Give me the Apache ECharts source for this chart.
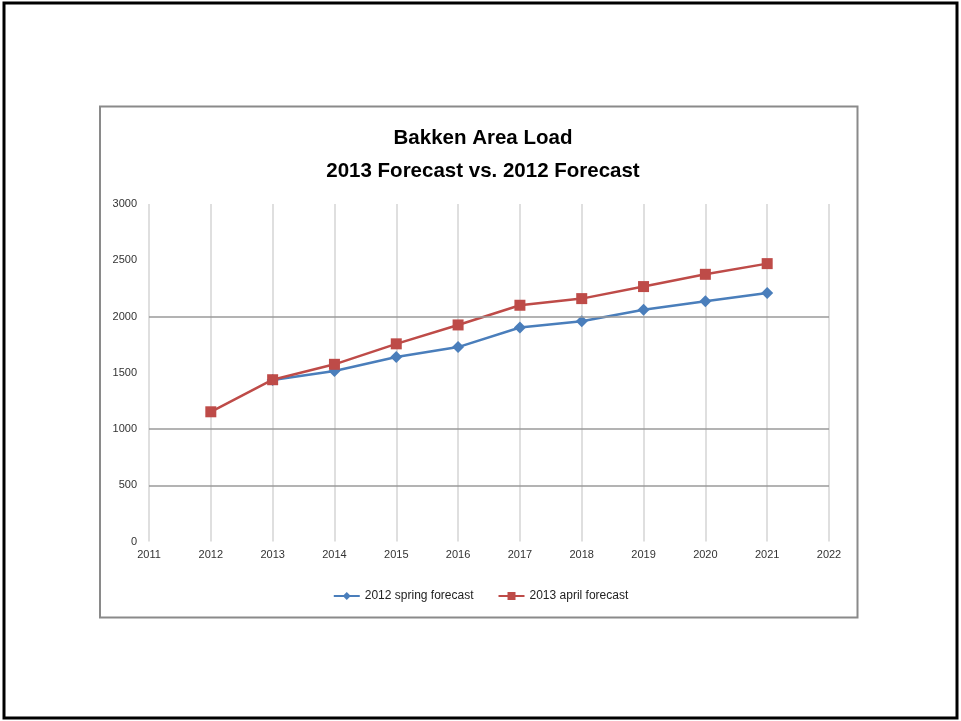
<!DOCTYPE html>
<html>
<head>
<meta charset="utf-8">
<script src="https://cdn.jsdelivr.net/npm/echarts@6/dist/echarts.min.js"></script>
<style>html,body{margin:0;padding:0;background:#fff}#c{width:961px;height:721px}</style>
</head>
<body>
<div id="c"></div>
<script>
const years = [2012, 2013, 2014, 2015, 2016, 2017, 2018, 2019, 2020, 2021];
const spring2012 = [null, 1435, 1515, 1640, 1728, 1902, 1957, 2060, 2135, 2208];
const april2013 = [1153, 1438, 1575, 1757, 1925, 2100, 2159, 2266, 2375, 2470];
const yGridValues = [500, 1000, 2000];
const titleLines = ['Bakken Area Load', '2013 Forecast vs. 2012 Forecast'];
const seriesNames = ['2012 spring forecast', '2013 april forecast'];

const chart = echarts.init(document.getElementById('c'));
const toPairs = vals => years.map((y, i) => [y, vals[i]]);
const font = '"Liberation Sans Narrow", "Liberation Sans", Arial, sans-serif';

chart.setOption({
  backgroundColor: '#fff',
  animation: false,
  graphic: [
    { type: 'rect', shape: { x: 4, y: 3, width: 953, height: 715 }, style: { fill: 'none', stroke: '#000', lineWidth: 3 }, z: -1 },
    { type: 'rect', shape: { x: 100, y: 106.5, width: 757.5, height: 511 }, style: { fill: 'none', stroke: '#8a8a8a', lineWidth: 2 }, z: -1 }
  ],
  title: {
    text: titleLines.join('\n'),
    left: 478, top: 117, textAlign: 'center',
    textStyle: { fontFamily: '"Liberation Sans", Arial, sans-serif', fontWeight: 'bold', fontSize: 20.5, lineHeight: 33, color: '#000' }
  },
  legend: {
    top: 585, left: 'center',
    itemWidth: 26, itemHeight: 10, itemGap: 24,
    textStyle: { fontFamily: font, fontSize: 12, color: '#222' },
    data: seriesNames
  },
  grid: { left: 149, right: 132, top: 204, bottom: 179.5 },
  xAxis: {
    type: 'value', min: 2011, max: 2022, interval: 1,
    axisLine: { show: false }, axisTick: { show: false },
    axisLabel: { fontFamily: font, fontSize: 11, color: '#333', margin: 8, formatter: v => String(v) },
    splitLine: { show: true, lineStyle: { color: '#d4d4d4', width: 1.5 } }
  },
  yAxis: {
    type: 'value', min: 0, max: 3000, interval: 500,
    axisLine: { show: false }, axisTick: { show: false },
    axisLabel: { fontFamily: font, fontSize: 11, color: '#333', margin: 12, formatter: v => String(v) },
    splitLine: { show: false }
  },
  series: [
    {
      name: seriesNames[0], type: 'line', data: toPairs(spring2012),
      symbol: 'diamond', symbolSize: 12,
      lineStyle: { color: '#4a7ebb', width: 2.5 }, itemStyle: { color: '#4a7ebb' },
      markLine: {
        silent: true, symbol: 'none', label: { show: false },
        lineStyle: { color: '#9a9a9a', width: 1.5, type: 'solid' },
        data: yGridValues.map(v => ({ yAxis: v }))
      },
      z: 3
    },
    {
      name: seriesNames[1], type: 'line', data: toPairs(april2013),
      symbol: 'rect', symbolSize: 11,
      lineStyle: { color: '#be4b48', width: 2.5 }, itemStyle: { color: '#be4b48' },
      z: 4
    }
  ]
});
</script>
</body>
</html>
